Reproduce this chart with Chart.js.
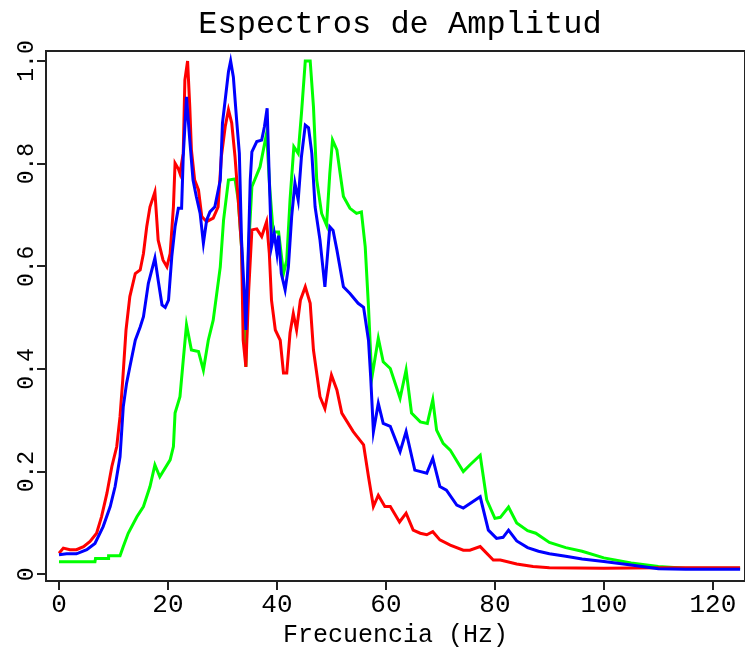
<!DOCTYPE html>
<html>
<head>
<meta charset="utf-8">
<title>Espectros de Amplitud</title>
<script src="https://cdn.jsdelivr.net/npm/chart.js@4.4.1/dist/chart.umd.min.js"></script>
<style>
  html, body { margin: 0; padding: 0; background: #fff; }
  #wrap { width: 745px; height: 654px; }
</style>
</head>
<body>
<div id="wrap"><canvas id="espectros" width="745" height="654"></canvas></div>
<script>
// Amplitude spectra (frequency in Hz, normalised amplitude)
const redHz = [0, 0.8, 2, 3.2, 4.5, 5.7, 6.9, 7.8, 8.8, 9.7, 10.6, 11.2, 11.7, 12.3, 13, 14, 14.9, 15.5, 16.1, 16.7,
  17.6, 18.2, 19.1, 19.8, 20.4, 21, 21.3, 21.9, 22.2, 22.8, 23.1, 23.6, 24, 24.3, 24.9, 25.6, 26.2, 27.1, 28.3, 29.2,
  29.8, 30.5, 31.1, 31.7, 32.3, 32.9, 33.5, 33.8, 34.3, 34.8, 35.4, 36.3, 37.2, 38.1, 38.6, 39, 39.7, 40.6, 41.2, 41.8,
  42.4, 43, 43.6, 44.3, 45.2, 46.1, 46.7, 47.9, 48.8, 50, 51, 51.9, 54, 55.9, 56.8, 57.7, 58.6, 59.8, 60.8, 62.5,
  63.7, 65, 66.3, 67.5, 68.6, 69.9, 71.8, 74.2, 75.4, 77.3, 79.7, 81, 84, 87, 90, 100, 110, 125];
const redAmp = [0.041, 0.051, 0.048, 0.048, 0.054, 0.064, 0.080, 0.112, 0.158, 0.210, 0.249, 0.307, 0.379, 0.476, 0.541, 0.586, 0.593, 0.625, 0.677, 0.716,
  0.745, 0.651, 0.612, 0.599, 0.625, 0.716, 0.801, 0.790, 0.781, 0.820, 0.963, 1.0, 0.911, 0.827, 0.768, 0.749, 0.697, 0.687, 0.694, 0.716,
  0.814, 0.872, 0.905, 0.879, 0.814, 0.729, 0.638, 0.456, 0.404, 0.550, 0.671, 0.673, 0.658, 0.687, 0.625, 0.534, 0.476, 0.456, 0.392, 0.392,
  0.470, 0.508, 0.476, 0.534, 0.560, 0.528, 0.437, 0.346, 0.323, 0.388, 0.359, 0.314, 0.278, 0.252, 0.190, 0.132, 0.154, 0.132, 0.132, 0.102,
  0.119, 0.086, 0.080, 0.077, 0.083, 0.067, 0.057, 0.047, 0.047, 0.054, 0.028, 0.028, 0.020, 0.015, 0.013, 0.012, 0.013, 0.013];

const blueHz = [0, 1.4, 3.2, 5.1, 6.6, 8.1, 9.4, 10.3, 11.2, 11.8, 12.4, 13, 14, 14.9, 15.5, 16.4, 17.6, 18.2, 18.9, 19.5,
  20.1, 20.7, 21.3, 21.9, 22.5, 22.8, 23.4, 24, 24.6, 25.2, 25.9, 26.5, 27.1, 27.7, 28.6, 29.6, 30, 30.5, 31.1, 31.5,
  32, 32.6, 33.1, 33.5, 34, 34.3, 34.8, 35.1, 35.4, 36.3, 37.2, 37.7, 38.2, 38.6, 39, 39.5, 40, 40.3, 40.8, 41.5,
  42.1, 42.7, 43.3, 43.9, 44.5, 45.2, 45.8, 46.4, 47, 47.9, 48.8, 49.7, 50.3, 51, 52.2, 53.4, 54.9, 55.9, 56.8, 57.2,
  57.7, 58.6, 59.5, 60.8, 62.6, 63.7, 65.3, 67.5, 68.6, 69.9, 71.1, 73, 74.2, 77.3, 78.8, 80.3, 81.5, 82.5, 84, 86,
  88, 90, 93, 96, 100, 105, 110, 115, 125];
const blueAmp = [0.038, 0.040, 0.040, 0.048, 0.060, 0.093, 0.132, 0.171, 0.229, 0.327, 0.372, 0.404, 0.456, 0.482, 0.502, 0.567, 0.616, 0.573, 0.525, 0.520,
  0.534, 0.619, 0.677, 0.713, 0.713, 0.814, 0.930, 0.846, 0.768, 0.736, 0.703, 0.645, 0.690, 0.706, 0.716, 0.768, 0.879, 0.924, 0.979, 1.0,
  0.969, 0.885, 0.820, 0.651, 0.547, 0.476, 0.651, 0.768, 0.823, 0.843, 0.846, 0.872, 0.908, 0.768, 0.638, 0.664, 0.625, 0.660, 0.586, 0.554,
  0.599, 0.697, 0.762, 0.729, 0.814, 0.875, 0.870, 0.820, 0.716, 0.651, 0.560, 0.677, 0.670, 0.632, 0.560, 0.547, 0.528, 0.520, 0.456, 0.385,
  0.278, 0.333, 0.294, 0.288, 0.239, 0.278, 0.203, 0.197, 0.226, 0.171, 0.164, 0.135, 0.129, 0.151, 0.086, 0.070, 0.072, 0.086, 0.065, 0.052,
  0.045, 0.040, 0.035, 0.030, 0.025, 0.018, 0.011, 0.010, 0.010];

const greenHz = [0, 6.6, 6.7, 9, 9.1, 11.2, 11.8, 12.7, 14.3, 15.5, 16.7, 17.6, 18.5, 20.4, 21, 21.3, 22.2, 22.8, 23.4, 24.3,
  25.6, 26.5, 27.4, 28.3, 29.6, 30.2, 31.1, 32.3, 32.9, 33.5, 34, 34.3, 34.8, 35.4, 36.9, 38.1, 38.7, 39.3, 40.3, 41.2,
  41.8, 42.4, 43.1, 43.9, 44.5, 45.2, 46.1, 46.7, 47.3, 48.2, 49.1, 49.7, 50.2, 51, 51.6, 52.2, 53.4, 54.6, 55.5, 56.2,
  56.8, 57.4, 58.6, 59.5, 60.8, 62.6, 63.7, 64.7, 66.3, 67.6, 68.6, 69.3, 70.5, 71.8, 74.2, 75.4, 77.3, 78.5, 80, 81,
  82.5, 84, 86, 87.5, 90, 93, 96, 100, 105, 110, 115, 125];
const greenAmp = [0.0245, 0.0245, 0.031, 0.031, 0.036, 0.036, 0.054, 0.080, 0.112, 0.132, 0.171, 0.213, 0.190, 0.223, 0.249, 0.314, 0.346, 0.417, 0.486, 0.437,
  0.434, 0.398, 0.456, 0.495, 0.599, 0.690, 0.768, 0.770, 0.729, 0.638, 0.476, 0.404, 0.638, 0.755, 0.794, 0.859, 0.749, 0.667, 0.667, 0.586,
  0.612, 0.729, 0.833, 0.820, 0.898, 1.0, 1.0, 0.911, 0.768, 0.703, 0.680, 0.781, 0.846, 0.827, 0.781, 0.736, 0.713, 0.703, 0.706, 0.638,
  0.521, 0.382, 0.460, 0.414, 0.401, 0.343, 0.398, 0.314, 0.297, 0.294, 0.340, 0.281, 0.255, 0.242, 0.200, 0.213, 0.232, 0.145, 0.109, 0.111,
  0.131, 0.100, 0.085, 0.080, 0.062, 0.052, 0.045, 0.032, 0.022, 0.015, 0.012, 0.012];

const xTicks = [0, 20, 40, 60, 80, 100, 120];
const yTicks = [0, 0.2, 0.4, 0.6, 0.8, 1];
const chartTitle = 'Espectros de Amplitud';
const xTitle = 'Frecuencia (Hz)';

function toPoints(hz, amp) {
  return hz.map((f, i) => ({ x: f, y: amp[i] }));
}

// box around the plot + the main title (R style)
const frameAndTitle = {
  id: 'frameAndTitle',
  afterDraw(chart) {
    const { ctx, chartArea: a } = chart;
    ctx.save();
    ctx.strokeStyle = '#222';
    ctx.lineWidth = 2;
    ctx.strokeRect(a.left, a.top, a.right - a.left, a.bottom - a.top);
    ctx.fillStyle = '#000';
    ctx.font = '32px "Liberation Mono"';
    ctx.textAlign = 'center';
    ctx.textBaseline = 'alphabetic';
    ctx.fillText(chartTitle, 400, 33);
    ctx.restore();
  }
};

const lineStyle = { borderWidth: 3, pointRadius: 0, tension: 0, fill: false };

new Chart(document.getElementById('espectros'), {
  type: 'line',
  data: {
    datasets: [
      { ...lineStyle, data: toPoints(greenHz, greenAmp), borderColor: '#00ff00', order: 3 },
      { ...lineStyle, data: toPoints(redHz, redAmp), borderColor: '#ff0000', order: 2 },
      { ...lineStyle, data: toPoints(blueHz, blueAmp), borderColor: '#0000ff', order: 1 }
    ]
  },
  options: {
    responsive: false,
    animation: false,
    devicePixelRatio: 1,
    layout: { padding: { top: 51, left: 0, right: 0, bottom: 0 } },
    plugins: { legend: { display: false }, title: { display: false }, tooltip: { enabled: false } },
    scales: {
      x: {
        type: 'linear',
        min: -2.386,
        max: 125.9,
        afterBuildTicks: s => { s.ticks = xTicks.map(v => ({ value: v })); },
        afterFit: s => { s.height = 73; s.paddingLeft = 0; s.paddingRight = 0; },
        border: { display: false },
        grid: { drawOnChartArea: false, drawTicks: true, tickLength: 9, color: '#222', lineWidth: 2 },
        ticks: { color: '#000', font: { family: 'Liberation Mono', size: 26 }, padding: 0, maxRotation: 0, autoSkip: false },
        title: { display: true, text: xTitle, color: '#000', font: { family: 'Liberation Mono', size: 25 }, padding: { top: 0, bottom: 4 } }
      },
      y: {
        type: 'linear',
        min: -0.01305,
        max: 1.0195,
        afterBuildTicks: s => { s.ticks = yTicks.map(v => ({ value: v })); },
        afterFit: s => { s.width = 46; s.paddingTop = 0; s.paddingBottom = 0; },
        border: { display: false },
        grid: { drawOnChartArea: false, drawTicks: true, tickLength: 9, color: '#222', lineWidth: 2 },
        ticks: { color: '#000', font: { family: 'Liberation Mono', size: 23 }, padding: -11, minRotation: 90, maxRotation: 90, crossAlign: 'center', autoSkip: false }
      }
    }
  },
  plugins: [frameAndTitle]
});
</script>
</body>
</html>
